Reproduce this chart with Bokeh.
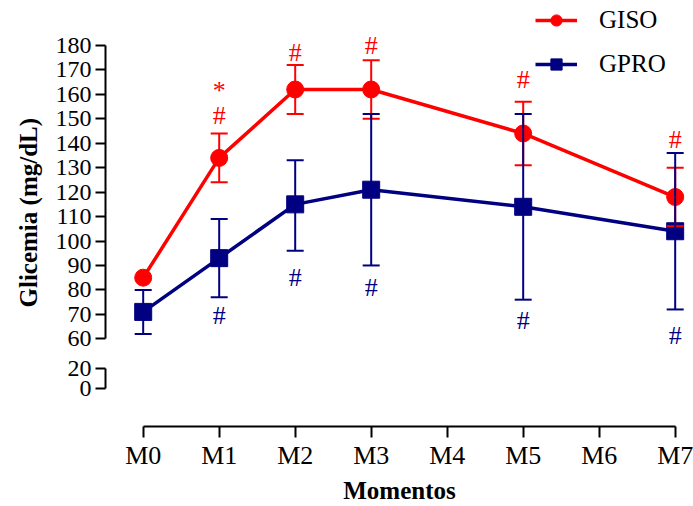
from bokeh.plotting import figure
from bokeh.models import (ColumnDataSource, Range1d, FixedTicker, Whisker, TeeHead,
                          Legend, LegendItem, Title)
from bokeh.layouts import column
from bokeh.embed import file_html
from bokeh.resources import INLINE
from bokeh.core.properties import value

# ---------------- data ----------------
categories = ["M0", "M1", "M2", "M3", "M4", "M5", "M6", "M7"]
moments = ["M0", "M1", "M2", "M3", "M5", "M7"]

giso_mean = [85, 134, 162, 162, 144, 118]
giso_upper = [85, 144, 172, 174, 157, 130]
giso_lower = [85, 124, 152, 150, 131, 106]

gpro_mean = [71, 93, 115, 121, 114, 104]
gpro_upper = [80, 109, 133, 152, 152, 136]
gpro_lower = [62, 77, 96, 90, 76, 72]

y_ticks_upper = [60, 70, 80, 90, 100, 110, 120, 130, 140, 150, 160, 170, 180]
y_ticks_lower = [0, 20]

# significance marks (moment, symbol, level on y scale)
giso_marks_moment = ["M1", "M1", "M2", "M3", "M5", "M7"]
giso_marks_symbol = ["*", "#", "#", "#", "#", "#"]
giso_marks_level = [161.5, 151.5, 177, 180, 166, 141.5]

gpro_marks_moment = ["M1", "M2", "M3", "M5", "M7"]
gpro_marks_symbol = ["#", "#", "#", "#", "#"]
gpro_marks_level = [69.5, 85, 81, 67.5, 61.5]

RED = "#FF0000"
BLUE = "#000080"
FONT = "Liberation Serif"

def xi(names):
    return [categories.index(n) for n in names]

X_START, X_END = -0.496, 7.241
TOP_H, BOT_H = 352, 154

# ---------------- upper panel ----------------
top = figure(width=693, height=TOP_H, output_backend="svg", toolbar_location=None,
             x_range=Range1d(X_START, X_END), y_range=Range1d(54.39, 198.41),
             x_axis_location=None, min_border_left=105, min_border_right=0,
             min_border_top=0, min_border_bottom=0)
top.outline_line_color = None
top.grid.visible = False
top.background_fill_color = None
top.border_fill_color = None

ya = top.yaxis[0]
ya.ticker = FixedTicker(ticks=y_ticks_upper)
ya.bounds = (60, 180)
ya.axis_line_width = 2
ya.major_tick_line_width = 2
ya.major_tick_out = 10
ya.major_tick_in = 0
ya.minor_tick_line_color = None
ya.major_label_text_font = FONT
ya.major_label_text_font_size = "24px"
ya.major_label_text_color = "black"
ya.major_label_standoff = 4

title_y = Title(text="Glicemia (mg/dL)", align="left", offset=45, standoff=22,
                text_font=FONT, text_font_size="25px", text_font_style="bold",
                text_color="black")
top.add_layout(title_y, "left")

src_giso = ColumnDataSource(dict(x=xi(moments), y=giso_mean, up=giso_upper, lo=giso_lower))
src_gpro = ColumnDataSource(dict(x=xi(moments), y=gpro_mean, up=gpro_upper, lo=gpro_lower))

keep = [i for i in range(len(moments)) if giso_upper[i] != giso_lower[i]]
src_giso_err = ColumnDataSource(dict(x=[xi(moments)[i] for i in keep],
                                     up=[giso_upper[i] for i in keep],
                                     lo=[giso_lower[i] for i in keep]))

for src, col in ((src_giso_err, RED), (src_gpro, BLUE)):
    w = Whisker(source=src, base="x", upper="up", lower="lo", line_color=col, line_width=2,
                upper_head=TeeHead(size=17, line_color=col, line_width=2),
                lower_head=TeeHead(size=17, line_color=col, line_width=2))
    w.level = "glyph"
    top.add_layout(w)

l1 = top.line("x", "y", source=src_giso, line_color=RED, line_width=3.5)
l2 = top.line("x", "y", source=src_gpro, line_color=BLUE, line_width=3.5)
s1 = top.scatter("x", "y", source=src_giso, marker="circle", size=17, fill_color=RED, line_color=RED)
s2 = top.scatter("x", "y", source=src_gpro, marker="square", size=17, fill_color=BLUE, line_color=BLUE)

top.text(x=xi(giso_marks_moment), y=giso_marks_level, text=giso_marks_symbol,
         text_color=RED, text_font=value(FONT), text_font_size="26px",
         text_align="center", text_baseline="middle")
top.text(x=xi(gpro_marks_moment), y=gpro_marks_level, text=gpro_marks_symbol,
         text_color=BLUE, text_font=value(FONT), text_font_size="26px",
         text_align="center", text_baseline="middle")

legend = Legend(items=[LegendItem(label="GISO", renderers=[l1, s1]),
                       LegendItem(label="GPRO", renderers=[l2, s2])],
                location=(430, TOP_H - 78), orientation="vertical")
legend.label_text_font = FONT
legend.label_text_font_size = "25px"
legend.label_text_color = "black"
legend.glyph_width = 42
legend.glyph_height = 28
legend.label_standoff = 22
legend.spacing = 16
legend.padding = 0
legend.margin = 0
legend.border_line_color = None
legend.background_fill_alpha = 0
top.add_layout(legend)

# ---------------- lower panel ----------------
bot = figure(width=693, height=BOT_H, output_backend="svg", toolbar_location=None,
             x_range=Range1d(X_START, X_END), y_range=Range1d(-38, 36),
             min_border_left=105, min_border_right=0, min_border_top=0, min_border_bottom=80)
bot.outline_line_color = None
bot.grid.visible = False
bot.background_fill_color = None
bot.border_fill_color = None

yb = bot.yaxis[0]
yb.ticker = FixedTicker(ticks=y_ticks_lower)
yb.bounds = (0, 20)
yb.axis_line_width = 2
yb.major_tick_line_width = 2
yb.major_tick_out = 10
yb.major_tick_in = 0
yb.minor_tick_line_color = None
yb.major_label_text_font = FONT
yb.major_label_text_font_size = "24px"
yb.major_label_text_color = "black"
yb.major_label_standoff = 4

xb = bot.xaxis[0]
xb.ticker = FixedTicker(ticks=list(range(len(categories))))
xb.major_label_overrides = {i: c for i, c in enumerate(categories)}
xb.bounds = (0, len(categories) - 1)
xb.axis_line_width = 2
xb.major_tick_line_width = 2
xb.major_tick_out = 11
xb.major_tick_in = 0
xb.minor_tick_line_color = None
xb.major_label_text_font = FONT
xb.major_label_text_font_size = "26px"
xb.major_label_text_color = "black"
xb.major_label_standoff = 3
xb.axis_label = "Momentos"
xb.axis_label_text_font = FONT
xb.axis_label_text_font_size = "25px"
xb.axis_label_text_font_style = "bold"
xb.axis_label_text_color = "black"
xb.axis_label_standoff = 4

layout = column(top, bot, spacing=0)
open("out.html", "w").write(file_html(layout, INLINE))
